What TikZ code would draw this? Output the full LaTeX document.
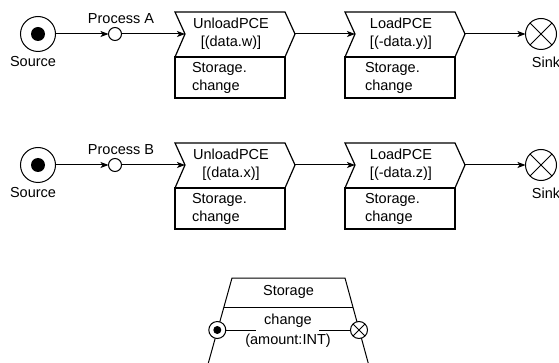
\documentclass[tikz,border=0pt]{standalone}
\usepackage{fontspec}
\setmainfont{Liberation Sans}
\usetikzlibrary{arrows.meta}

% One source -> process -> unload -> load -> sink chain.
% #1 name prefix, #2 vertical offset, #3 process label, #4 unload argument, #5 load argument
\newcommand\pcechain[5]{%
\begin{scope}[shift={(0,#2)}, name prefix=#1-]
  \node[srccirc] (src) at (38,34) {};
  \node[srcdot] (srcdot) at (src.center) {};
  \node[lbl] (srclbl) at (33,62) {Source};
  \node[proccirc] (proc) at (115,34) {};
  \node[lbl] (proclbl) at (121,19) {#3};
  % unload operation
  \draw[opshape] (175,12) -- (285,12) -- (295,34) -- (285,57) -- (175,57) -- (185,34) -- cycle;
  \coordinate (uin) at (185,34);
  \coordinate (uout) at (295,34);
  \node[optext] (utext) at (231,34) {UnloadPCE\\{}#4};
  \draw[opshape] (175,57) rectangle (285,98);
  \node[boxtext] (ubox) at (192,77.5) {Storage.\\change};
  % load operation
  \draw[opshape] (345,12) -- (455,12) -- (465,34) -- (455,57) -- (345,57) -- (355,34) -- cycle;
  \coordinate (lin) at (355,34);
  \coordinate (lout) at (465,34);
  \node[optext] (ltext) at (401,34) {LoadPCE\\{}#5};
  \draw[opshape] (345,57) rectangle (455,98);
  \node[boxtext] (lbox) at (365,77.5) {Storage.\\change};
  % sink
  \node[sinkcirc] (sink) at (541,34) {};
  \draw (sink.north west) -- (sink.south east) (sink.north east) -- (sink.south west);
  \node[lbl] (sinklbl) at (546,62) {Sink};
  % connectors
  \draw[flow] (src) -- (proc);
  \draw[flow] (proc) -- (uin);
  \draw[flow] (uout) -- (lin);
  \draw[flow] (lout) -- (sink);
\end{scope}}

\begin{document}
\begin{tikzpicture}[x=1pt, y=-1pt, line width=1pt,
  every node/.style={inner sep=0pt, outer sep=0pt},
  lbl/.style={font=\fontsize{14.5}{16}\selectfont},
  optext/.style={font=\fontsize{14.5}{18}\selectfont, align=center},
  boxtext/.style={font=\fontsize{14.5}{18}\selectfont, align=left, anchor=west},
  opshape/.style={line width=1.2pt, fill=white},
  srccirc/.style={circle, draw, fill=white, minimum size=35pt},
  srcdot/.style={circle, fill=black, minimum size=14pt},
  proccirc/.style={circle, draw, fill=white, minimum size=13pt},
  sinkcirc/.style={circle, draw, fill=white, minimum size=31pt},
  smallcirc/.style={circle, draw, fill=white, minimum size=17pt},
  flow/.style={-{Stealth[length=8pt, width=6pt, inset=2pt]}}]
\useasboundingbox (0,0) rectangle (559,363);

\pcechain{A}{0}{Process A}{[(data.w)]}{[(-data.y)]}
\pcechain{B}{131}{Process B}{[(data.x)]}{[(-data.z)]}

% Storage class with its change port
\draw (207.5,366) -- (232,278) -- (345,278) -- (369,366);
\draw (223.8,307) -- (352.9,307);
\node[lbl] (stname) at (288.5,292) {Storage};
\node[smallcirc] (portin) at (217.3,330) {};
\node[circle, fill=black, minimum size=8pt] (portdot) at (portin.center) {};
\node[smallcirc] (portout) at (359,330) {};
\draw (portout.north west) -- (portout.south east) (portout.north east) -- (portout.south west);
\node[lbl] (chg) at (288,320.5) {change};
\node[lbl] (chgarg) at (288,340.5) {(amount:INT)};
\coordinate (chgl) at (256,330);
\coordinate (chgr) at (319,330);
\draw (portin) -- (chgl);
\draw (chgr) -- (portout);
\end{tikzpicture}
\end{document}
